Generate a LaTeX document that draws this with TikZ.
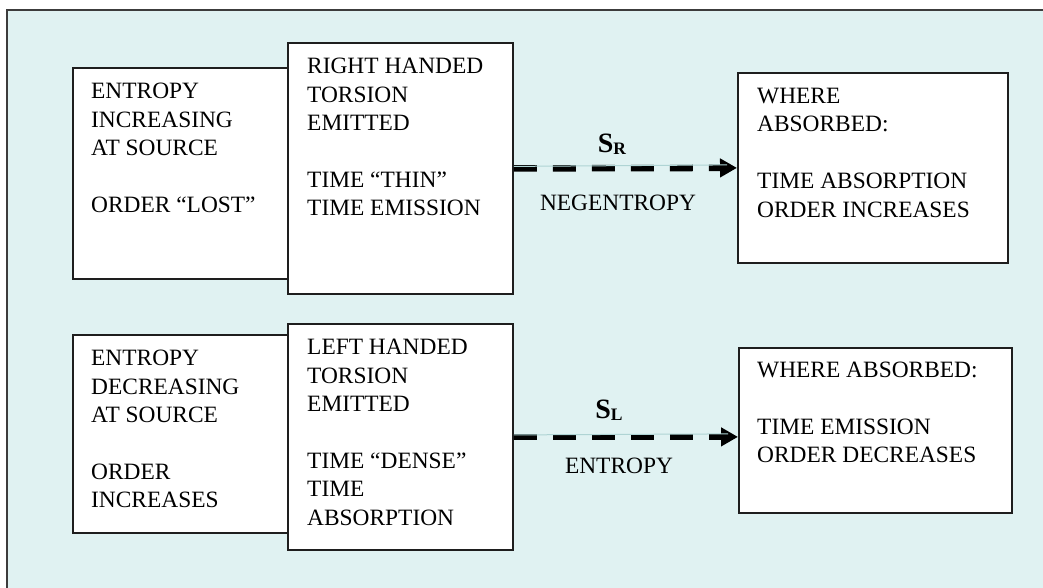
\documentclass[tikz,border=0pt]{standalone}
\usepackage{fontspec}
\setmainfont{Liberation Serif}
\usetikzlibrary{arrows.meta}
\definecolor{bgcyan}{RGB}{224,242,242}
\definecolor{edgegray}{RGB}{30,30,30}
\definecolor{framegray}{RGB}{60,60,60}
\definecolor{thinline}{RGB}{175,212,212}
\begin{document}
\begin{tikzpicture}[x=1pt,y=-1pt,
 box/.style={draw=edgegray, line width=1.8pt, fill=white, rectangle, inner sep=0pt, anchor=north west},
 txt/.style={anchor=north west, inner sep=0pt, align=left, font=\fontsize{23.4}{28.4}\selectfont},
 lbl/.style={anchor=base, inner sep=0pt, font=\fontsize{23.4}{28.4}\selectfont},
 slbl/.style={anchor=base, inner sep=0pt, font=\bfseries\fontsize{28}{30}\selectfont},
 flow/.style={line width=6.5pt, dash pattern=on 23pt off 16pt, -{Triangle[length=17pt,width=18pt]}},
 glint/.style={draw=thinline, line width=1pt},
]
\useasboundingbox (0,0) rectangle (1043,588);
\fill[bgcyan] (7,10) rectangle (1043,588);
\draw[framegray, line width=1.5pt] (7,588) -- (7,10) -- (1043,10);

% top row
\node[box, minimum width=215pt, minimum height=211pt] (a1) at (72,67) {};
\node[box, minimum width=225pt, minimum height=251pt] (b1) at (287,42) {};
\node[box, minimum width=270pt, minimum height=190pt] (c1) at (737,72) {};
\node[txt] (ta1) at (91,83) {ENTROPY\\INCREASING\\AT SOURCE\\ \\ORDER “LOST”};
\node[txt] (tb1) at (307,58) {RIGHT HANDED\\TORSION\\EMITTED\\ \\TIME “THIN”\\TIME EMISSION};
\node[txt] (tc1) at (757,88) {WHERE\\ABSORBED:\\ \\TIME ABSORPTION\\ORDER INCREASES};

% bottom row
\node[box, minimum width=215pt, minimum height=198pt] (a2) at (72,334) {};
\node[box, minimum width=225pt, minimum height=226pt] (b2) at (287,323) {};
\node[box, minimum width=273pt, minimum height=165pt] (c2) at (738,347) {};
\node[txt] (ta2) at (91,350) {ENTROPY\\DECREASING\\AT SOURCE\\ \\ORDER\\INCREASES};
\node[txt] (tb2) at (307,339) {LEFT HANDED\\TORSION\\EMITTED\\ \\TIME “DENSE”\\TIME\\ABSORPTION};
\node[txt] (tc2) at (757,362) {WHERE ABSORBED:\\ \\TIME EMISSION\\ORDER DECREASES};

% connectors
\draw[flow] (b1.east) -- (c1.west);
\coordinate (g1s) at ([yshift=2pt]b1.east);
\coordinate (g1e) at ([xshift=-10pt,yshift=3pt]c1.west);
\draw[glint] (g1s) -- (g1e);

\coordinate (c2in) at (b2.east -| c2.west);
\draw[flow] (b2.east) -- (c2in);
\coordinate (g2s) at ([yshift=2pt]b2.east);
\coordinate (g2e) at ([xshift=-10pt,yshift=3pt]c2in);
\draw[glint] (g2s) -- (g2e);

% labels
\node[slbl] (sr) at (612,153) {S{\fontsize{17.5}{18}\selectfont\raisebox{-2pt}{R}}};
\node[lbl] (neg) at (618,210) {NEGENTROPY};
\node[slbl] (sl) at (609,418) {S{\fontsize{17.5}{18}\selectfont\raisebox{-2pt}{L}}};
\node[lbl] (ent) at (619,473) {ENTROPY};
\end{tikzpicture}
\end{document}
